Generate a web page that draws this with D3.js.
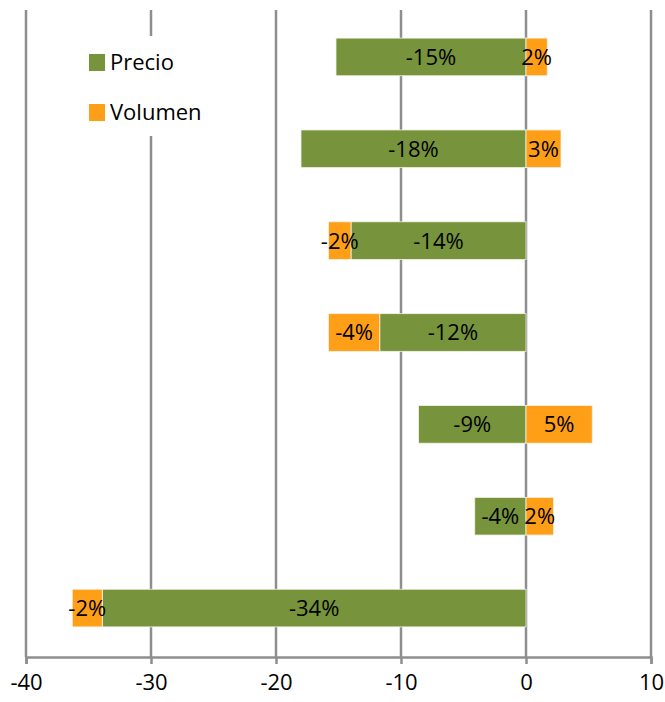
<!DOCTYPE html>
<html>
<head>
<meta charset="utf-8">
<script src="https://cdn.jsdelivr.net/npm/d3@7"></script>
<style>
  html, body { margin: 0; padding: 0; background: #fff; }
  svg { display: block; font-family: "Open Sans", "Noto Sans", sans-serif; }
</style>
</head>
<body>
<svg id="chart" width="665" height="702"></svg>
<script>
// Row identifiers, top to bottom
const rows = ["r1", "r2", "r3", "r4", "r5", "r6", "r7"];
// Percentage change by component
const precio  = [-15.2, -18.0, -14.0, -11.7, -8.6, -4.1, -33.9];
const volumen = [1.7, 2.8, -1.8, -4.1, 5.3, 2.2, -2.4];
const seriesNames = ["Precio", "Volumen"];
const seriesColors = ["#77933c", "#ff9f17"];
const xTicks = [-40, -30, -20, -10, 0, 10];

const svg = d3.select("#chart");
const margin = { top: 10, left: 26, right: 14, bottom: 45 };
const W = 665, H = 702;

const x = d3.scaleLinear().domain([-40, 10]).range([margin.left, W - margin.right]);
const y = d3.scaleBand().domain(rows).range([11, 654])
  .paddingInner(0.59).paddingOuter(0.295);

// vertical gridlines
svg.append("g").selectAll("line").data(xTicks).join("line")
  .attr("x1", d => x(d)).attr("x2", d => x(d))
  .attr("y1", margin.top).attr("y2", H - margin.bottom)
  .attr("stroke", "#8e8e8e").attr("stroke-width", 2.5);

// x axis
const axis = svg.append("g")
  .attr("transform", `translate(0,${H - margin.bottom})`)
  .call(d3.axisBottom(x).tickValues(xTicks).tickSize(7).tickPadding(10).tickFormat(d3.format("d")));
axis.select(".domain").attr("stroke", "#8e8e8e").attr("stroke-width", 2.5);
axis.selectAll(".tick line").attr("stroke", "#8e8e8e").attr("stroke-width", 2.5);
axis.selectAll(".tick text").attr("font-size", 22).attr("fill", "#000")
  .attr("font-family", "Open Sans, Noto Sans, sans-serif")
  .text(d => d < 0 ? "-" + Math.abs(d) : d);

// stacked segments: negatives stack leftwards from 0, positives rightwards
const segs = [];
rows.forEach((r, i) => {
  let pos = 0, neg = 0;
  [precio[i], volumen[i]].forEach((v, s) => {
    let x0, x1;
    if (v >= 0) { x0 = pos; x1 = pos + v; pos = x1; }
    else { x0 = neg + v; x1 = neg; neg = x0; }
    segs.push({ row: r, s, v, x0, x1 });
  });
});

svg.append("g").selectAll("rect").data(segs).join("rect")
  .attr("x", d => x(d.x0))
  .attr("width", d => x(d.x1) - x(d.x0))
  .attr("y", d => y(d.row))
  .attr("height", y.bandwidth())
  .attr("fill", d => seriesColors[d.s])
  .attr("stroke", "#f3f3e6").attr("stroke-width", 0.8);

const pct = v => d3.format(".0f")(v).replace("−", "-") + "%";
svg.append("g").selectAll("text").data(segs).join("text")
  .attr("x", d => (x(d.x0) + x(d.x1)) / 2)
  .attr("y", d => y(d.row) + y.bandwidth() / 2)
  .attr("dy", "0.36em")
  .attr("text-anchor", "middle")
  .attr("font-size", 22)
  .attr("fill", "#000")
  .text(d => pct(d.v));

// legend with white background
const lg = svg.append("g");
lg.append("rect").attr("x", 80).attr("y", 36).attr("width", 130).attr("height", 100).attr("fill", "#fff");
seriesNames.forEach((name, i) => {
  const gy = 54 + i * 50;
  lg.append("rect").attr("x", 89).attr("y", gy).attr("width", 16).attr("height", 17)
    .attr("fill", seriesColors[i]);
  lg.append("text").attr("x", 110).attr("y", gy + 8.5).attr("dy", "0.36em")
    .attr("font-size", 22).attr("fill", "#000").text(name);
});
</script>
</body>
</html>
